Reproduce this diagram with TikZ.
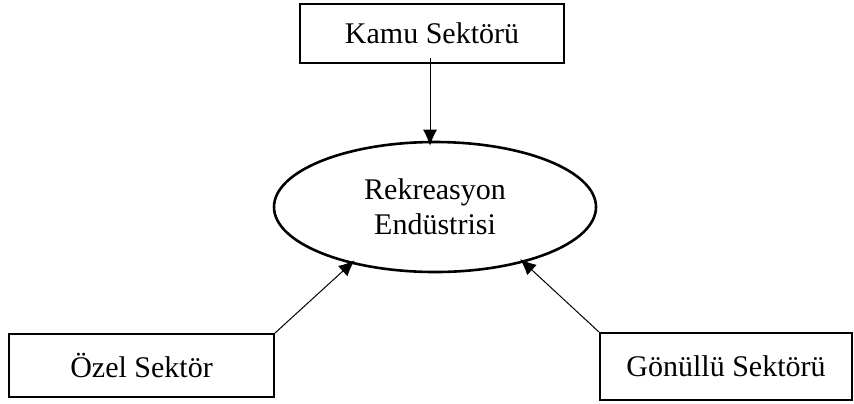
\documentclass[tikz,border=0pt]{standalone}
\usepackage{fontspec}
\setmainfont{Liberation Serif}
\usepackage{tikz}
\usetikzlibrary{shapes.geometric, arrows.meta, positioning, calc}

\begin{document}
\begin{tikzpicture}[x=0.5pt,y=-0.5pt,
    sektor/.style={draw,line width=1pt,inner sep=0pt,font=\fontsize{15}{18}\selectfont},
    akis/.style={-{Latex[length=8pt,width=7pt]},line width=0.5pt,shorten >=-2.5pt}]
\useasboundingbox (0,0) rectangle (854,403);
% Center
\node[ellipse,draw,line width=1.3pt,minimum width=161pt,minimum height=65pt,inner sep=0pt,
      align=center,font=\fontsize{15}{17.5}\selectfont] (rekr) at (435,207) {Rekreasyon\\Endüstrisi};
% Sectors
\node[sektor,minimum width=132pt,minimum height=29.5pt] (kamu) at (432,33.5) {Kamu Sektörü};
\node[sektor,minimum width=132.5pt,minimum height=31.5pt] (ozel) at (141.5,365.5) {Özel Sektör};
\node[sektor,minimum width=126pt,minimum height=33.5pt] (gonullu) at (726,366.5) {Gönüllü Sektörü};
% Connections
\draw[akis] ($(kamu.south)+(-2,-6)$) -- (rekr.north -| 430,0);
\draw[akis] (ozel.north east) -- (rekr.214);
\draw[akis] (gonullu.north west) -- (rekr.-32);
\end{tikzpicture}
\end{document}
